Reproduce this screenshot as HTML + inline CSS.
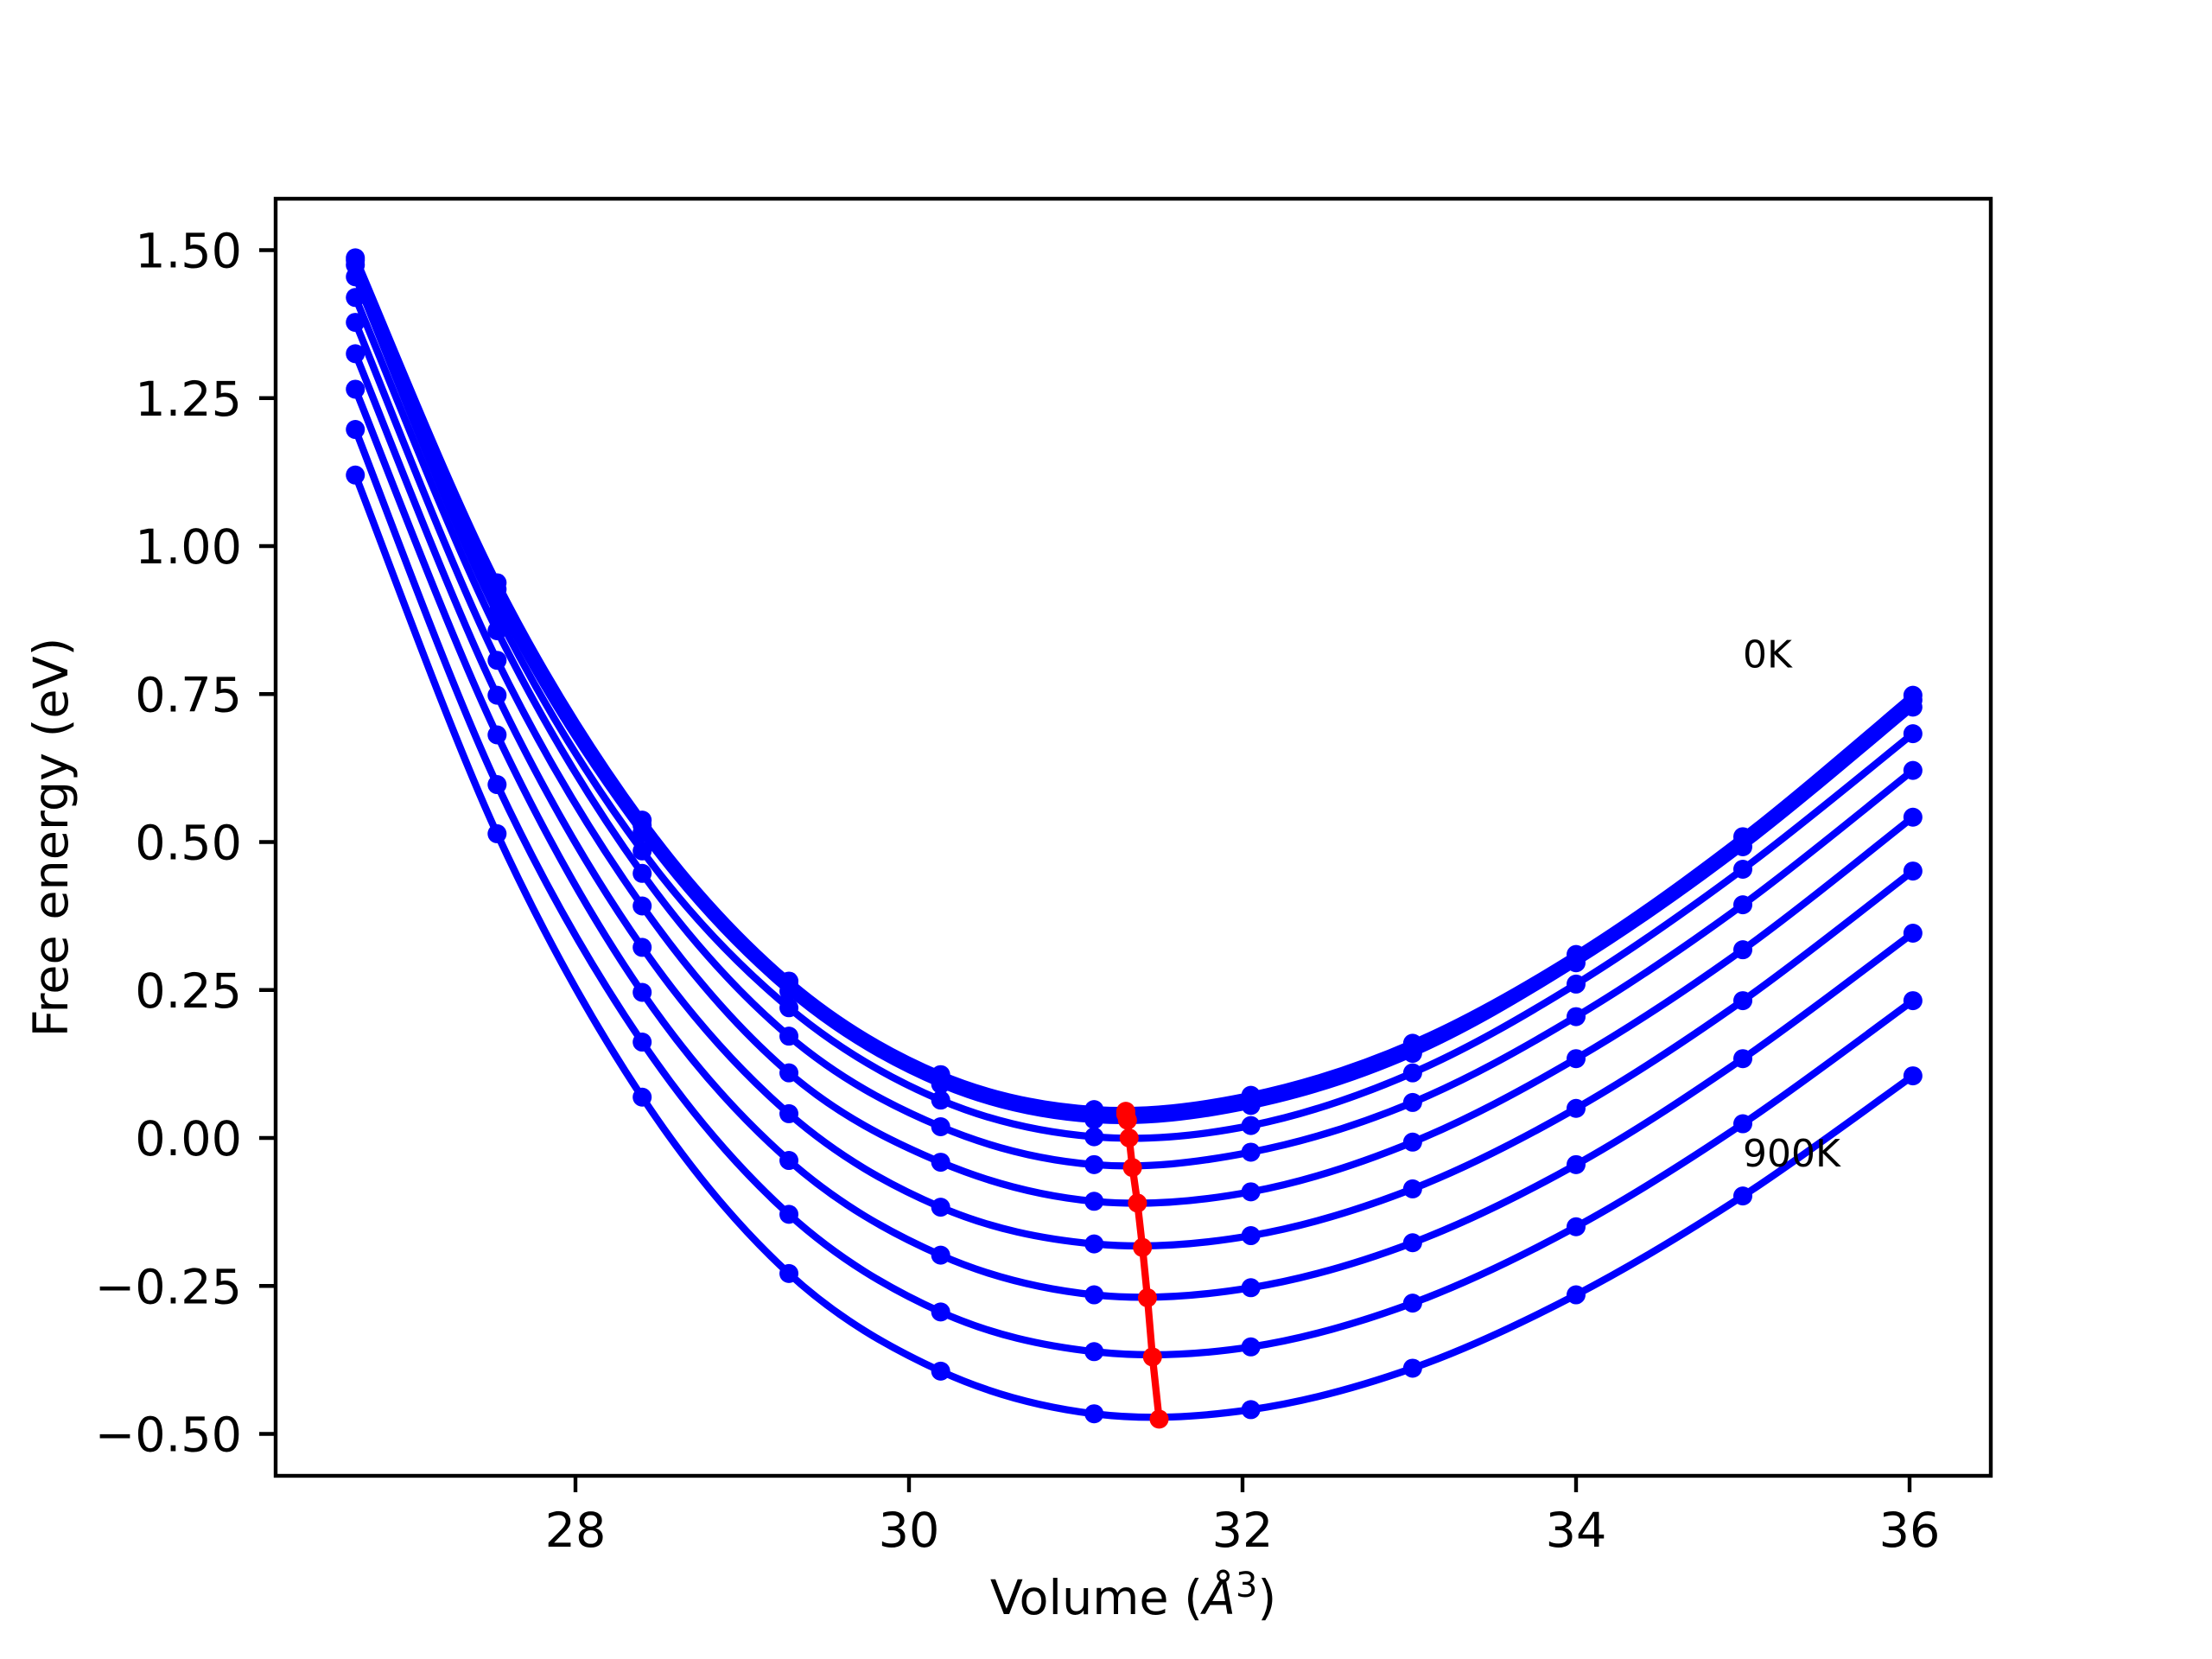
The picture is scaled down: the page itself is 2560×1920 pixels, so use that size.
<!DOCTYPE html>
<html><head><meta charset="utf-8"><style>
html,body{margin:0;padding:0;background:#fff;}
svg{display:block;}
text{font-family:"DejaVu Sans","Liberation Sans",sans-serif;fill:#000;}
</style></head><body>
<svg id="chart" width="2560" height="1920" viewBox="0 0 2560 1920" xmlns="http://www.w3.org/2000/svg">
<rect x="0" y="0" width="2560" height="1920" fill="#fff"/>
<g id="plot"></g>
<g id="axes"></g>
</svg>
<script>
const volumes = [26.68, 27.53, 28.40, 29.28, 30.19, 31.11, 32.05, 33.02, 34.00, 35.00, 36.02];
const temps = ["0K","100K","200K","300K","400K","500K","600K","700K","800K","900K"];
const f0K   = [1.487, 0.938, 0.537, 0.265, 0.107, 0.048, 0.072, 0.160, 0.310, 0.509, 0.748];
const f100K = [1.483, 0.927, 0.528, 0.258, 0.100, 0.038, 0.064, 0.153, 0.303, 0.502, 0.740];
const f200K = [1.475, 0.910, 0.516, 0.248, 0.091, 0.031, 0.055, 0.143, 0.296, 0.492, 0.728];
const f300K = [1.455, 0.886, 0.485, 0.220, 0.064, 0.002, 0.021, 0.110, 0.260, 0.454, 0.683];
const f400K = [1.420, 0.857, 0.447, 0.172, 0.019, -0.045, -0.024, 0.060, 0.205, 0.394, 0.621];
const f500K = [1.378, 0.807, 0.392, 0.110, -0.041, -0.107, -0.091, -0.007, 0.134, 0.318, 0.542];
const f600K = [1.325, 0.748, 0.322, 0.041, -0.117, -0.179, -0.165, -0.086, 0.050, 0.232, 0.451];
const f700K = [1.265, 0.681, 0.246, -0.038, -0.198, -0.265, -0.253, -0.177, -0.045, 0.134, 0.346];
const f800K = [1.197, 0.597, 0.162, -0.129, -0.294, -0.361, -0.353, -0.279, -0.150, 0.024, 0.232];
const f900K = [1.120, 0.514, 0.069, -0.229, -0.394, -0.466, -0.459, -0.389, -0.265, -0.098, 0.105];
const minVolumes = [31.30, 31.30, 31.31, 31.32, 31.34, 31.37, 31.40, 31.43, 31.46, 31.50];
const minEnergies = [0.045, 0.040, 0.030, 0.000, -0.050, -0.110, -0.185, -0.270, -0.370, -0.475];
const xTicks = [28, 30, 32, 34, 36];
const yTicks = [-0.50, -0.25, 0.00, 0.25, 0.50, 0.75, 1.00, 1.25, 1.50];
const series = [f0K,f100K,f200K,f300K,f400K,f500K,f600K,f700K,f800K,f900K];

const NS = "http://www.w3.org/2000/svg";
const L = 319, R = 2304, T = 230, B = 1708;
function xs(v){ return 666 + 193*(v-28); }
function ys(v){ return 1317 - 685*v; }
function mk(tag, attrs, parent){
  const e = document.createElementNS(NS, tag);
  for (const k in attrs) e.setAttribute(k, attrs[k]);
  parent.appendChild(e); return e;
}
function smoothPath(pts){
  let d = "M" + pts[0][0].toFixed(2) + "," + pts[0][1].toFixed(2);
  for (let i=0;i<pts.length-1;i++){
    const p0 = pts[Math.max(0,i-1)], p1 = pts[i], p2 = pts[i+1], p3 = pts[Math.min(pts.length-1,i+2)];
    const c1x = p1[0] + (p2[0]-p0[0])/6, c1y = p1[1] + (p2[1]-p0[1])/6;
    const c2x = p2[0] - (p3[0]-p1[0])/6, c2y = p2[1] - (p3[1]-p1[1])/6;
    d += " C"+c1x.toFixed(2)+","+c1y.toFixed(2)+" "+c2x.toFixed(2)+","+c2y.toFixed(2)+" "+p2[0].toFixed(2)+","+p2[1].toFixed(2);
  }
  return d;
}
const plot = document.getElementById("plot");
series.forEach((vals, si) => {
  const g = mk("g", {}, plot);
  
  
  const pts = volumes.map((v,i)=>[xs(v), ys(vals[i])]);
  const p = mk("path", {d: smoothPath(pts), fill:"none", stroke:"#0000ff", "stroke-width":"8.3", "stroke-linejoin":"round"}, g);
  
  
  pts.forEach((pt, i) => {
    const c = mk("circle", {cx: pt[0], cy: pt[1], r: 11, fill:"#0000ff"}, g);
    
    
  });
});
const rg = mk("g", {}, plot);


const mpts = minVolumes.map((v,i)=>[xs(v), ys(minEnergies[i])]);
const rl = mk("polyline", {points: mpts.map(p=>p[0].toFixed(2)+","+p[1].toFixed(2)).join(" "), fill:"none", stroke:"#ff0000", "stroke-width":"8.3", "stroke-linejoin":"round"}, rg);


mpts.forEach((pt,i) => {
  const c = mk("circle", {cx: pt[0], cy: pt[1], r: 11, fill:"#ff0000"}, rg);
  
  
});
const t0 = mk("text", {x: xs(35), y: ys(0.795), "font-size": "44"}, plot);
t0.textContent = "0K";


const t9 = mk("text", {x: xs(35), y: ys(-0.048), "font-size": "44"}, plot);
t9.textContent = "900K";



const ax = document.getElementById("axes");
const frame = mk("rect", {x:L, y:T, width:R-L, height:B-T, fill:"none", stroke:"#000", "stroke-width":"4.4"}, ax);


xTicks.forEach(v => {
  const x = xs(v);
  const tk = mk("line", {x1:x, y1:B, x2:x, y2:B+19, stroke:"#000", "stroke-width":"4.4"}, ax);
  
  
  const tl = mk("text", {x:x, y:1790, "font-size":"55.6", "text-anchor":"middle"}, ax);
  tl.textContent = String(v);
  
  
});
yTicks.forEach(v => {
  const y = ys(v);
  const tk = mk("line", {x1:L-19, y1:y, x2:L, y2:y, stroke:"#000", "stroke-width":"4.4"}, ax);
  
  
  const tl = mk("text", {x:L-39, y:y+20, "font-size":"55.6", "text-anchor":"end"}, ax);
  tl.textContent = (v < 0 ? "\u2212" : "") + Math.abs(v).toFixed(2);
  
  
});
const xl = mk("text", {x:(L+R)/2, y:1868, "font-size":"55.6", "text-anchor":"middle"}, ax);
xl.innerHTML = 'Volume (<tspan font-style="italic">Å</tspan><tspan font-size="40" dy="-20">3</tspan><tspan dy="20">)</tspan>';


const yl = mk("text", {x:0, y:0, "font-size":"55.6", "text-anchor":"middle", transform:"translate(78," + ((T+B)/2) + ") rotate(-90)"}, ax);
yl.textContent = "Free energy (eV)";


</script>
</body></html>
